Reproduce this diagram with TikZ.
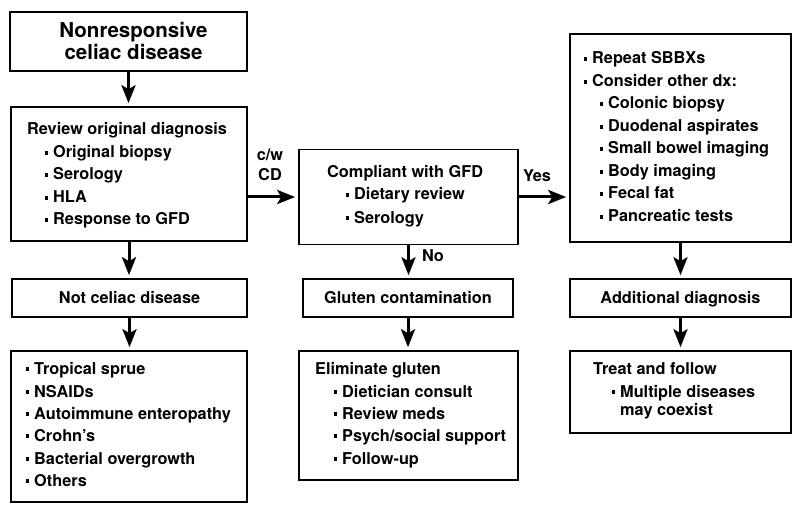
\documentclass[tikz,border=0pt]{standalone}
\usepackage{fontspec}
\setmainfont{TeX Gyre Heros}
\usetikzlibrary{arrows.meta}
\newcommand\bul{\llap{\raisebox{3.3pt}{\rule{3.2pt}{3.4pt}}\hspace{5pt}}}
\begin{document}
\begin{tikzpicture}[x=1pt,y=-1pt,
  box/.style={draw, line width=1.6pt, inner sep=0pt},
  arr/.style={line width=3pt, -{Stealth[length=18pt,width=14pt,inset=4pt]}, shorten >=3pt},
  tx/.style={anchor=base west, inner sep=0pt, font=\bfseries\fontsize{16.3}{19}\selectfont},
  ct/.style={anchor=base, inner sep=0pt, font=\bfseries\fontsize{16.3}{19}\selectfont},
  tt/.style={anchor=base, inner sep=0pt, font=\bfseries\fontsize{20.5}{22}\selectfont}]
\useasboundingbox (0,0) rectangle (800,513);

% boxes
\node[box, minimum width=237pt, minimum height=59pt]  (b1)  at (128.5,41.5) {};
\node[box, minimum width=236pt, minimum height=134pt] (b2)  at (129,174) {};
\node[box, minimum width=219pt, minimum height=95pt]  (b3)  at (408.5,197) {};
\node[box, minimum width=221pt, minimum height=208pt] (b4)  at (680.5,138) {};
\node[box, minimum width=235pt, minimum height=38pt]  (b5)  at (129.5,298) {};
\node[box, minimum width=210pt, minimum height=38pt]  (b6)  at (408,298) {};
\node[box, minimum width=221pt, minimum height=38pt]  (b7)  at (680.5,298) {};
\node[box, minimum width=236pt, minimum height=151pt] (b8)  at (129,426.5) {};
\node[box, minimum width=219pt, minimum height=129pt] (b9)  at (408.5,415.5) {};
\node[box, minimum width=221pt, minimum height=82pt]  (b10) at (680.5,392) {};

% title
\node[tt] (t1a) at (133.5,37.5) {Nonresponsive};
\node[tt] (t1b) at (133.5,59.5) {celiac disease};

% box 2
\node[tx] (t2h) at (27,135) {Review original diagnosis};
\node[tx] (t2a) at (53,158) {\bul Original biopsy};
\node[tx] (t2b) at (53,180) {\bul Serology};
\node[tx] (t2c) at (53,203) {\bul HLA};
\node[tx] (t2d) at (53,225) {\bul Response to GFD};

% box 3
\node[tx] (t3h) at (327,178) {Compliant with GFD};
\node[tx] (t3a) at (354,200) {\bul Dietary review};
\node[tx] (t3b) at (354,223) {\bul Serology};

% box 4
\node[tx] (t4a) at (592,64)  {\bul Repeat SBBXs};
\node[tx] (t4b) at (592,87)  {\bul Consider other dx:};
\node[tx] (t4c) at (608,109) {\bul Colonic biopsy};
\node[tx] (t4d) at (608,132) {\bul Duodenal aspirates};
\node[tx] (t4e) at (608,154) {\bul Small bowel imaging};
\node[tx] (t4f) at (608,177) {\bul Body imaging};
\node[tx] (t4g) at (608,199) {\bul Fecal fat};
\node[tx] (t4h) at (608,222) {\bul Pancreatic tests};

% middle row
\node[ct] (t5) at (129.5,303) {Not celiac disease};
\node[ct] (t6) at (408,303) {Gluten contamination};
\node[ct] (t7) at (680.5,303) {Additional diagnosis};

% box 8
\node[tx] (t8a) at (34,374) {\bul Tropical sprue};
\node[tx] (t8b) at (34,397) {\bul NSAIDs};
\node[tx] (t8c) at (34,419) {\bul Autoimmune enteropathy};
\node[tx] (t8d) at (34,441) {\bul Crohn’s};
\node[tx] (t8e) at (34,464) {\bul Bacterial overgrowth};
\node[tx] (t8f) at (34,486) {\bul Others};

% box 9
\node[tx] (t9h) at (315,374) {Eliminate gluten};
\node[tx] (t9a) at (342,397) {\bul Dietician consult};
\node[tx] (t9b) at (342,419) {\bul Review meds};
\node[tx] (t9c) at (342,441) {\bul Psych/social support};
\node[tx] (t9d) at (342,464) {\bul Follow-up};

% box 10
\node[tx] (t10h) at (593,374) {Treat and follow};
\node[tx] (t10a) at (620,397) {\bul Multiple diseases};
\node[tx] (t10b) at (620,415) {may coexist};

% connector labels
\node[ct] (lcw) at (270,161) {c/w};
\node[ct] (lcd) at (270,181) {CD};
\node[ct] (lyes) at (537,182) {Yes};
\node[ct] (lno) at (433,261) {No};

% arrows
\draw[arr] (b1.south) -- (b1.south |- b2.north);
\draw[arr] (b2.south) -- (b2.south |- b5.north);
\draw[arr] (b5.south) -- (b5.south |- b8.north);
\draw[arr] (b3.west -| b2.east) -- (b3.west);
\draw[arr] (b3.east) -- (b3.east -| b4.west);
\draw[arr] (b3.south) -- (b3.south |- b6.north);
\draw[arr] (b6.south) -- (b6.south |- b9.north);
\draw[arr] (b4.south) -- (b4.south |- b7.north);
\draw[arr] (b7.south) -- (b7.south |- b10.north);
\end{tikzpicture}
\end{document}
